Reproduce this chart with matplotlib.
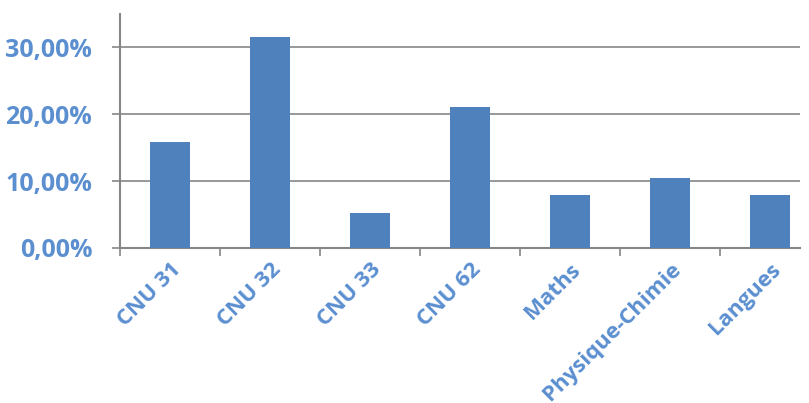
import numpy as np
import matplotlib.pyplot as plt
from matplotlib.ticker import FuncFormatter

# disciplines et parts (sur 38 réponses)
categories = ['CNU 31', 'CNU 32', 'CNU 33', 'CNU 62', 'Maths', 'Physique-Chimie', 'Langues']
values = [0.1579, 0.3158, 0.0526, 0.2105, 0.0789, 0.1053, 0.0789]
yticks = [0.0, 0.1, 0.2, 0.3]

bar_color = '#4F81BD'
text_color = '#5B8FD0'
grey = '#868686'

fig = plt.figure(figsize=(8.09, 4.03), dpi=100)
ax = fig.add_axes([120 / 809, 155 / 403, 680 / 809, 234 / 403])

x = np.arange(len(categories))
ax.bar(x, values, width=0.4, color=bar_color, zorder=3)

ax.set_xlim(-0.5, 6.3)
ax.set_ylim(0, 0.35)
ax.set_yticks(yticks)
ax.yaxis.set_major_formatter(FuncFormatter(lambda v, p: f'{v * 100:.2f}%'.replace('.', ',')))
ax.grid(axis='y', color=grey, linewidth=1.2, zorder=0)

for s in ['top', 'right']:
    ax.spines[s].set_visible(False)
for s in ['left', 'bottom']:
    ax.spines[s].set_color(grey)
    ax.spines[s].set_linewidth(1.5)

ax.set_xticks(x)
ax.set_xticklabels(categories, rotation=45, ha='right', rotation_mode='anchor',
                   fontsize=16, fontweight='bold', color=text_color, family='Open Sans')
ax.set_xticks(np.arange(-0.5, 6.5, 1), minor=True)
ax.tick_params(axis='x', which='major', length=0, pad=8)
ax.tick_params(axis='x', which='minor', length=6, color=grey, width=1.2)
ax.tick_params(axis='y', length=6, color=grey, width=1.2, pad=14)
for lab in ax.get_yticklabels():
    lab.set_fontsize(18)
    lab.set_fontweight('bold')
    lab.set_color(text_color)
    lab.set_family('Open Sans')

fig.savefig('out.png', dpi=100)
